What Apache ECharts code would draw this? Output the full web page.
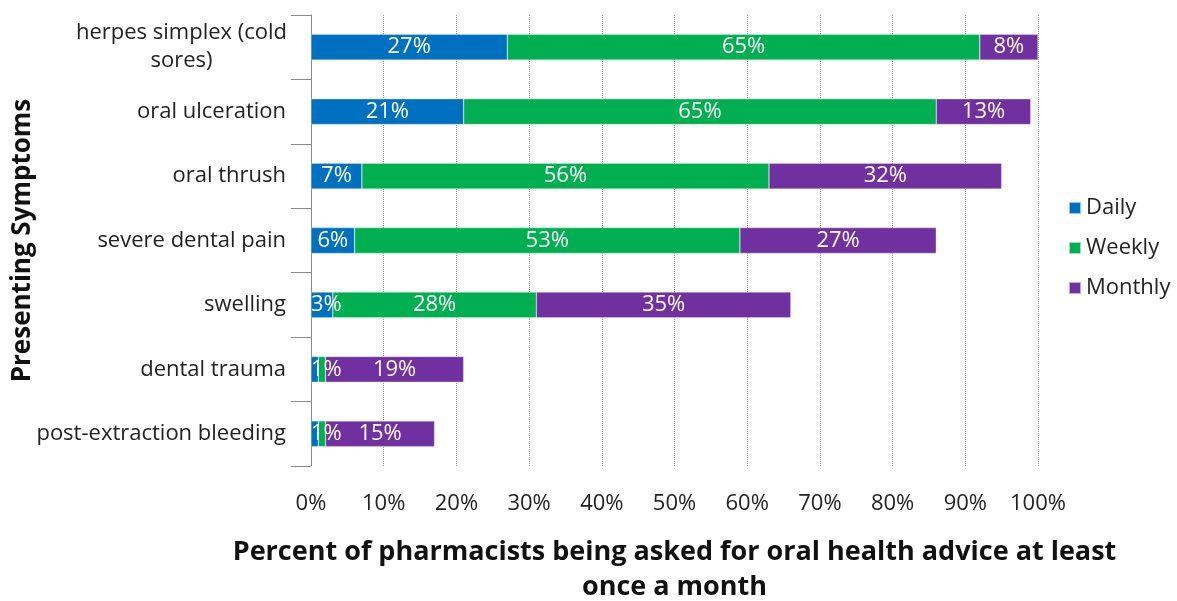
<!DOCTYPE html>
<html>
<head>
<meta charset="utf-8">
<script src="https://cdn.jsdelivr.net/npm/echarts@6/dist/echarts.min.js"></script>
<style>html,body{margin:0;padding:0;background:#fff}#c{width:1177px;height:601px}</style>
</head>
<body>
<div id="c"></div>
<script>
const categories = ['herpes simplex (cold sores)', 'oral ulceration', 'oral thrush', 'severe dental pain', 'swelling', 'dental trauma', 'post-extraction bleeding'];
const daily = [27, 21, 7, 6, 3, 1, 1];
const weekly = [65, 65, 56, 53, 28, 1, 1];
const monthly = [8, 13, 32, 27, 35, 19, 15];
const xTicks = [0, 10, 20, 30, 40, 50, 60, 70, 80, 90, 100];
const seriesNames = ['Daily', 'Weekly', 'Monthly'];
const colors = ['#0070C0', '#00B050', '#7030A0'];

const FONT = 'Open Sans';
const chart = echarts.init(document.getElementById('c'));
// small daily segments: label pushed inside the plot; tiny weekly segment labels overlap and are not drawn separately
const dailyData = daily.map(v => v < 5 ? { value: v, label: { position: 'insideLeft', distance: 0 } } : v);
const weeklyData = weekly.map(v => v < 2 ? { value: v, label: { show: false } } : v);
const mk = (name, data, color) => ({
  name, type: 'bar', stack: 'total', data, barCategoryGap: '60%',
  itemStyle: { color, borderColor: 'rgba(255,255,255,0.6)', borderWidth: 0.5 },
  label: { show: true, position: 'inside', color: '#fff', fontFamily: FONT, fontSize: 22, formatter: p => p.value + '%' }
});
chart.setOption({
  animation: false,
  textStyle: { fontFamily: FONT },
  grid: { left: 311, right: 139, top: 15, bottom: 135, containLabel: false, outerBoundsMode: 'none' },
  legend: {
    orient: 'vertical', left: 1063, top: 192, itemGap: 18, itemWidth: 12, itemHeight: 12,
    icon: 'rect', textStyle: { fontFamily: FONT, fontSize: 22, color: '#222' },
    data: seriesNames
  },
  xAxis: {
    type: 'value', min: 0, max: 100, interval: 10,
    axisLine: { show: false }, axisTick: { show: false },
    splitLine: { show: true, lineStyle: { color: '#999', type: 'dotted', width: 1 } },
    axisLabel: { fontFamily: FONT, fontSize: 22, color: '#222', margin: 27, formatter: v => v + '%' },
    name: 'Percent of pharmacists being asked for oral health advice at least\nonce a month',
    nameLocation: 'middle', nameGap: 69,
    nameTextStyle: { fontFamily: FONT, fontSize: 27, fontWeight: 'bold', color: '#111', lineHeight: 35 }
  },
  yAxis: {
    type: 'category', inverse: true, data: categories,
    axisLine: { show: true, lineStyle: { color: '#888' } },
    axisTick: { show: true, length: 20, lineStyle: { color: '#888' } },
    axisLabel: {
      fontFamily: FONT, fontSize: 22, color: '#222', margin: 25,
      formatter: v => v === 'herpes simplex (cold sores)' ? '{c|herpes simplex (cold}\n{c|sores)}' : v,
      rich: { c: { fontFamily: FONT, fontSize: 22, color: '#222', width: 209, align: 'center', lineHeight: 28 } }
    },
    name: 'Presenting Symptoms', nameLocation: 'middle', nameRotate: 90, nameGap: 275, nameMoveOverlap: false,
    nameTextStyle: { fontFamily: FONT, fontSize: 26, fontWeight: 'bold', color: '#111' }
  },
  series: [mk(seriesNames[0], dailyData, colors[0]), mk(seriesNames[1], weeklyData, colors[1]), mk(seriesNames[2], monthly, colors[2])]
});
</script>
</body>
</html>
